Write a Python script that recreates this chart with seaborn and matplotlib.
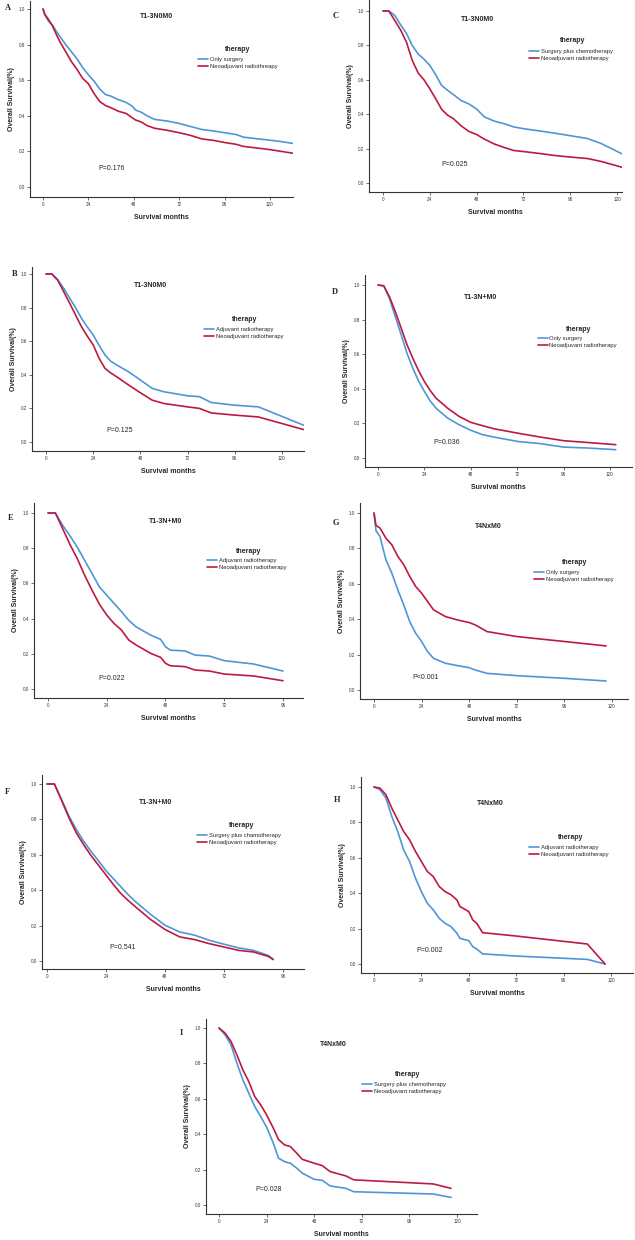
import numpy as np
import pandas as pd
import seaborn as sns
from matplotlib import pyplot as plt

# ---- data (months, overall survival) ----
a_months = [0, 1, 3, 5, 7, 9, 12, 15, 18, 21, 24, 27, 30, 33, 36, 40, 44, 47, 49, 52, 55, 59,
            66, 72, 78, 84, 90, 96, 102, 106, 114, 120, 126, 132]
a_surgery = [1.0, 0.965, 0.93, 0.91, 0.875, 0.845, 0.80, 0.76, 0.72, 0.67, 0.63, 0.595, 0.55, 0.52,
             0.51, 0.49, 0.475, 0.455, 0.432, 0.42, 0.40, 0.38, 0.37, 0.357, 0.34, 0.323, 0.315,
             0.305, 0.295, 0.28, 0.27, 0.263, 0.255, 0.245]
a_neo = [1.0, 0.97, 0.94, 0.905, 0.858, 0.815, 0.76, 0.705, 0.66, 0.61, 0.58, 0.525, 0.48, 0.458,
         0.445, 0.425, 0.413, 0.39, 0.376, 0.365, 0.345, 0.33, 0.318, 0.305, 0.29, 0.27, 0.262,
         0.25, 0.24, 0.228, 0.218, 0.21, 0.2, 0.19]

c_months = [0, 3, 6, 9, 12, 15, 18, 21, 24, 27, 30, 33, 36, 40, 44, 48, 52, 57, 62, 67, 72,
            80, 88, 95, 102, 105, 112, 123]
c_chemo = [1.0, 1.0, 0.975, 0.92, 0.87, 0.80, 0.75, 0.72, 0.684, 0.63, 0.568, 0.54, 0.515, 0.48,
           0.46, 0.43, 0.384, 0.36, 0.345, 0.326, 0.316, 0.303, 0.29, 0.277, 0.264, 0.258, 0.229, 0.167]
c_neo = [1.0, 1.0, 0.946, 0.89, 0.82, 0.713, 0.64, 0.60, 0.548, 0.49, 0.43, 0.395, 0.375, 0.333,
         0.30, 0.282, 0.255, 0.227, 0.207, 0.189, 0.183, 0.172, 0.16, 0.152, 0.145, 0.142, 0.125, 0.09]

b_months = [0, 3, 6, 9, 12, 15, 18, 21, 24, 27, 30, 33, 36, 42, 48, 54, 60, 72, 78, 84, 96, 108, 131]
b_adjuvant = [1.0, 1.0, 0.966, 0.915, 0.857, 0.80, 0.737, 0.685, 0.637, 0.575, 0.518, 0.48, 0.458,
              0.418, 0.369, 0.319, 0.299, 0.275, 0.27, 0.235, 0.219, 0.209, 0.10]
b_neo = [1.0, 1.0, 0.962, 0.895, 0.827, 0.757, 0.687, 0.63, 0.578, 0.498, 0.438, 0.41, 0.388,
         0.339, 0.293, 0.249, 0.229, 0.209, 0.2, 0.173, 0.16, 0.149, 0.074]

d_months = [0, 3, 6, 9, 12, 15, 18, 21, 24, 27, 30, 36, 42, 48, 54, 60, 72, 84, 96, 108, 123]
d_surgery = [1.0, 0.995, 0.92, 0.815, 0.712, 0.605, 0.519, 0.445, 0.385, 0.33, 0.288, 0.231, 0.192,
             0.16, 0.135, 0.121, 0.096, 0.083, 0.063, 0.058, 0.048]
d_neo = [1.0, 0.995, 0.93, 0.845, 0.75, 0.655, 0.577, 0.505, 0.442, 0.39, 0.346, 0.288, 0.24,
         0.206, 0.187, 0.169, 0.144, 0.121, 0.1, 0.09, 0.077]

e_months = [0, 3, 6, 9, 12, 15, 18, 21, 24, 27, 30, 33, 36, 42, 46, 48, 50, 56, 60, 66, 72, 84, 96]
e_adjuvant = [1.0, 1.0, 0.93, 0.87, 0.805, 0.73, 0.656, 0.58, 0.533, 0.486, 0.44, 0.39, 0.353,
              0.306, 0.282, 0.24, 0.221, 0.216, 0.193, 0.187, 0.161, 0.142, 0.102]
e_neo = [1.0, 1.0, 0.911, 0.82, 0.74, 0.645, 0.561, 0.482, 0.42, 0.372, 0.335, 0.278, 0.25,
         0.202, 0.18, 0.146, 0.132, 0.127, 0.108, 0.102, 0.085, 0.074, 0.047]

g_months = [0, 1, 3, 6, 9, 12, 15, 18, 21, 24, 27, 30, 36, 42, 48, 51, 57, 72, 96, 117]
g_surgery = [1.0, 0.90, 0.868, 0.736, 0.66, 0.566, 0.481, 0.387, 0.321, 0.274, 0.217, 0.179, 0.151,
             0.138, 0.126, 0.113, 0.094, 0.081, 0.066, 0.051]
g_neo = [1.0, 0.93, 0.915, 0.858, 0.82, 0.755, 0.708, 0.642, 0.585, 0.547, 0.5, 0.453, 0.415,
         0.396, 0.381, 0.368, 0.33, 0.302, 0.274, 0.249]

f_months = [0, 3, 6, 9, 12, 15, 18, 21, 24, 27, 30, 33, 36, 42, 48, 54, 60, 66, 72, 78, 84, 90, 92]
f_chemo = [1.0, 1.0, 0.91, 0.817, 0.741, 0.675, 0.618, 0.565, 0.51, 0.465, 0.42, 0.375, 0.335,
           0.265, 0.202, 0.164, 0.146, 0.117, 0.095, 0.074, 0.06, 0.032, 0.01]
f_neo = [1.0, 1.0, 0.905, 0.807, 0.722, 0.655, 0.594, 0.54, 0.486, 0.432, 0.382, 0.342, 0.306,
         0.236, 0.178, 0.136, 0.121, 0.098, 0.079, 0.06, 0.051, 0.026, 0.008]

h_months = [0, 3, 6, 9, 12, 15, 18, 21, 24, 27, 30, 33, 36, 39, 42, 43.5, 48, 50, 52, 55, 72, 108, 117]
h_adjuvant = [1.0, 0.985, 0.938, 0.834, 0.749, 0.645, 0.579, 0.485, 0.409, 0.343, 0.306, 0.258,
              0.23, 0.211, 0.174, 0.145, 0.132, 0.098, 0.085, 0.057, 0.045, 0.026, 0.0]
h_neo = [1.0, 0.994, 0.957, 0.881, 0.815, 0.749, 0.702, 0.636, 0.579, 0.523, 0.494, 0.438, 0.409,
         0.391, 0.362, 0.325, 0.296, 0.249, 0.23, 0.177, 0.158, 0.113, 0.0]

i_months = [0, 3, 6, 9, 12, 15, 18, 21, 24, 27, 28, 30, 33, 36, 39, 42, 48, 52, 56, 64, 68, 96, 108, 117]
i_chemo = [1.0, 0.962, 0.906, 0.802, 0.708, 0.632, 0.557, 0.50, 0.44, 0.36, 0.33, 0.265, 0.245,
           0.236, 0.21, 0.18, 0.145, 0.14, 0.108, 0.094, 0.075, 0.066, 0.062, 0.043]
i_neo = [1.0, 0.972, 0.925, 0.849, 0.764, 0.698, 0.613, 0.566, 0.509, 0.443, 0.42, 0.37, 0.34,
         0.33, 0.295, 0.258, 0.236, 0.223, 0.189, 0.164, 0.142, 0.126, 0.119, 0.094]

panel_letters = ["A", "C", "B", "D", "E", "G", "F", "H", "I"]
panel_titles = ["T1-3N0M0", "T1-3N0M0", "T1-3N0M0", "T1-3N+M0", "T1-3N+M0",
                "T4NxM0", "T1-3N+M0", "T4NxM0", "T4NxM0"]
p_values = ["P=0.176", "P=0.025", "P=0.125", "P=0.036", "P=0.022",
            "P<0.001", "P=0.541", "P=0.002", "P=0.028"]
neo_label = "Neoadjuvant radiotherapy"
series = [
    (a_months, "Only surgery", a_surgery, "Neoadjuvant radiothreapy", a_neo),
    (c_months, "Surgery plus chemotherapy", c_chemo, neo_label, c_neo),
    (b_months, "Adjuvant radiotherapy", b_adjuvant, neo_label, b_neo),
    (d_months, "Only surgery", d_surgery, neo_label, d_neo),
    (e_months, "Adjuvant radiotherapy", e_adjuvant, neo_label, e_neo),
    (g_months, "Only surgery", g_surgery, neo_label, g_neo),
    (f_months, "Surgery plus chamotherapy", f_chemo, neo_label, f_neo),
    (h_months, "Adjuvant radiotherapy", h_adjuvant, neo_label, h_neo),
    (i_months, "Surgery plus chemotherapy", i_chemo, neo_label, i_neo),
]
x_tick_max = [120, 120, 120, 120, 96, 120, 96, 120, 120]

# ---- layout, in reference pixels ----
W, H = 635, 1240
# left, top, right, bottom of the axes; px of x=0, px of x=tick_max; px of y=1, y=0
boxes = [
    (30, 1, 293, 197, 43, 270, 9, 187),
    (369, 0, 622, 192, 383, 617, 11, 183),
    (32, 267, 304, 451, 46, 282, 274, 442),
    (365, 275, 632, 467, 378, 610, 285, 458),
    (34, 503, 303, 698, 48, 283, 513, 689),
    (360, 503, 628, 699, 374, 612, 513, 690),
    (42, 775, 304, 969, 47, 283, 784, 961),
    (361, 777, 633, 973, 374, 611, 787, 964),
    (206, 1019, 477, 1214, 219, 457, 1028, 1205),
]
# text anchors in data units: title, p value, legend (handle left x, title x, title y, first row y)
title_pos = [(60, 0.96), (48.3, 0.95), (53, 0.932), (53.2, 0.929), (47.9, 0.949),
             (57.6, 0.925), (44.2, 0.898), (59.1, 0.906), (57.6, 0.906)]
p_pos = [(36.2, 0.103), (36.5, 0.107), (37.2, 0.07), (35.3, 0.087), (26.1, 0.06),
         (26.1, 0.072), (30.7, 0.076), (28.4, 0.074), (24.8, 0.085)]
legend_pos = [(82, 102.7, 0.774, 0.709), (75, 97.2, 0.826, 0.758), (80.4, 101, 0.731, 0.663),
              (82.6, 103.6, 0.744, 0.683), (64.9, 81.9, 0.784, 0.72), (80.6, 101.1, 0.721, 0.655),
              (61.1, 79.1, 0.766, 0.703), (78.6, 99.6, 0.717, 0.651), (72.3, 95.2, 0.74, 0.674)]
letter_pos = [(5, 8), (333, 16), (12, 274), (332, 292), (8, 518), (333, 523),
              (5, 792), (334, 800), (180, 1033)]

blue = "#4f96d8"
red = "#bd1a40"

sns.set_theme(style="ticks")
plt.rcParams["font.family"] = ["Liberation Sans", "DejaVu Sans"]

fig = plt.figure(figsize=(W / 100, H / 100), dpi=100)

for k in range(9):
    L, T, R, B, x0px, xkpx, y1px, y0px = boxes[k]
    sx = (xkpx - x0px) / x_tick_max[k]
    sy = y0px - y1px
    ax = fig.add_axes([L / W, 1 - B / H, (R - L) / W, (B - T) / H])

    months, lab1, s1, lab2, s2 = series[k]
    df = pd.DataFrame({
        "month": list(months) * 2,
        "surv": list(s1) + list(s2),
        "therapy": [lab1] * len(months) + [lab2] * len(months),
    })
    sns.lineplot(data=df, x="month", y="surv", hue="therapy", hue_order=[lab1, lab2],
                 palette=[blue, red], estimator=None, linewidth=1.2, legend=False, ax=ax)

    ax.set_xlim((L - x0px) / sx, (R - x0px) / sx)
    ax.set_ylim((y0px - B) / sy, (y0px - T) / sy)
    ax.set_xticks(np.arange(0, x_tick_max[k] + 1, 24))
    ax.set_yticks(np.arange(0, 1.01, 0.2))
    ax.set_yticklabels([f"{v:.1f}" for v in np.arange(0, 1.01, 0.2)])
    ax.tick_params(labelsize=3.3, length=2, width=0.5, pad=1.5, colors="#333333")
    sns.despine(ax=ax)
    for side in ["left", "bottom"]:
        ax.spines[side].set_linewidth(0.8)
        ax.spines[side].set_color("#333333")

    ax.set_xlabel("Survival months", fontsize=5, fontweight="bold", labelpad=5)
    ax.set_ylabel("Overall Survival(%)", fontsize=5, fontweight="bold", labelpad=3)

    tx, ty = title_pos[k]
    ax.text(tx, ty, panel_titles[k], fontsize=5, fontweight="bold", ha="center", va="center")
    px, py = p_pos[k]
    ax.text(px, py, p_values[k], fontsize=5, ha="center", va="center")

    hx, lx, ly, row1 = legend_pos[k]
    ax.text(lx, ly, "therapy", fontsize=5, fontweight="bold", ha="center", va="center")
    ax.legend(handles=ax.get_lines()[:2], labels=[lab1, lab2], loc="upper left",
              bbox_to_anchor=(hx, row1 + 0.022), bbox_transform=ax.transData,
              frameon=False, fontsize=4.2, borderpad=0, borderaxespad=0,
              handlelength=1.7, handletextpad=0.3, labelspacing=0.3)

    fx, fy = letter_pos[k]
    fig.text(fx / W, 1 - fy / H, panel_letters[k], fontsize=6, fontweight="bold",
             family="Liberation Serif", ha="left", va="center")

fig.savefig("out.png", dpi=100)
